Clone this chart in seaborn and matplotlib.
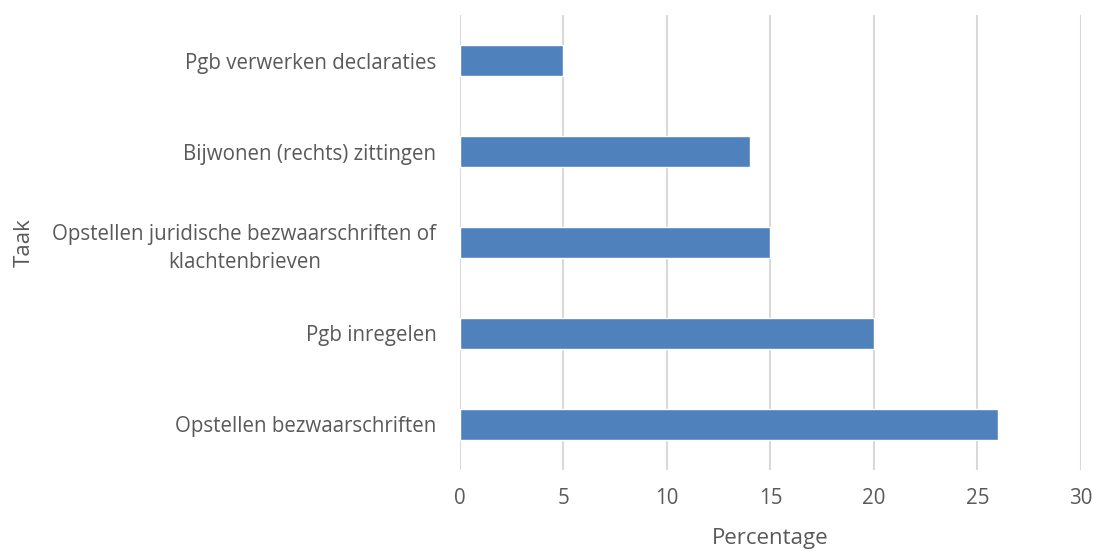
import matplotlib
matplotlib.use('Agg')
import matplotlib.pyplot as plt
import seaborn as sns
import pandas as pd

taken = ['Pgb verwerken declaraties', 'Bijwonen (rechts) zittingen',
         'Opstellen juridische bezwaarschriften of\nklachtenbrieven',
         'Pgb inregelen', 'Opstellen bezwaarschriften']
percentages = [5, 14, 15, 20, 26]
x_ticks = [0, 5, 10, 15, 20, 25, 30]

df = pd.DataFrame({'Taak': taken, 'Percentage': percentages})

sns.set_style('white')
plt.rcParams['font.family'] = ['Open Sans', 'DejaVu Sans']
text_color = '#595959'

fig = plt.figure(figsize=(10.97, 5.52), dpi=100)
ax = fig.add_axes([0.4193, 0.1486, 0.5661, 0.8242])

sns.barplot(data=df, x='Percentage', y='Taak', color='#4F81BD', width=0.35,
            saturation=1, ax=ax, zorder=3)

ax.set_xlim(0, 30)
ax.set_xticks(x_ticks)
ax.xaxis.grid(True, color='#d9d9d9', linewidth=1.5, zorder=0)
ax.set_axisbelow(True)
for s in ax.spines.values():
    s.set_visible(False)
ax.tick_params(axis='both', length=0, labelsize=14.8, colors=text_color)
ax.tick_params(axis='x', pad=13)
ax.tick_params(axis='y', pad=17)
for lbl in ax.get_yticklabels():
    lbl.set_multialignment('center')
    lbl.set_linespacing(1.45)

ax.set_xlabel('Percentage', fontsize=16, color=text_color, labelpad=14)
ax.set_ylabel('Taak', fontsize=16, color=text_color)
ax.yaxis.set_label_coords(-0.685, 0.5)

fig.savefig('out.png', dpi=100)
